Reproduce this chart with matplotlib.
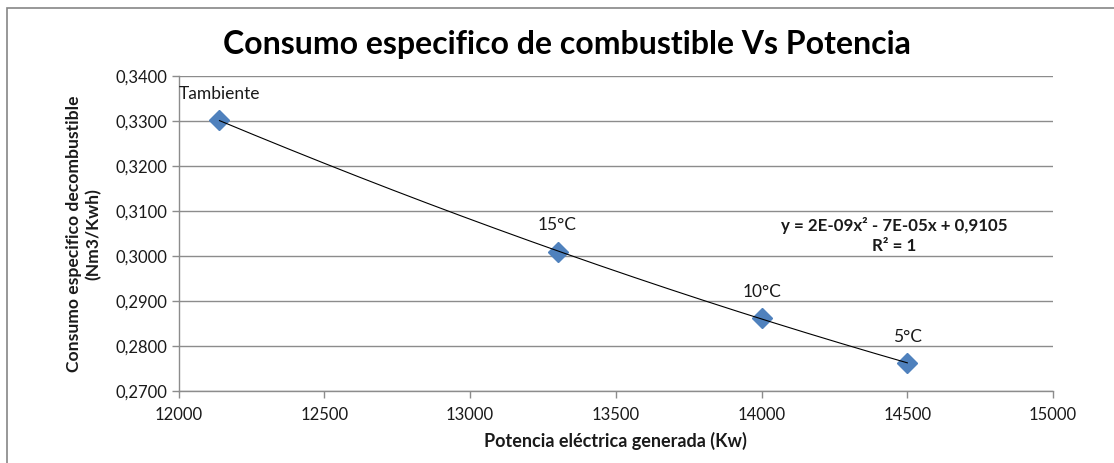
import matplotlib

matplotlib.use("Agg")
import matplotlib.pyplot as plt
import numpy as np
from matplotlib.patches import Rectangle
from matplotlib.ticker import FuncFormatter, MultipleLocator

# potencia generada (Kw) y consumo especifico (Nm3/Kwh) por condicion de temperatura
condiciones = ["Tambiente", "15°C", "10°C", "5°C"]
potencia = [12140, 13300, 14000, 14500]
consumo = [0.3302, 0.3010, 0.2862, 0.2761]

titulo = "Consumo especifico de combustible Vs Potencia"
etiqueta_x = "Potencia eléctrica generada (Kw)"
etiqueta_y = "Consumo especifico decombustible\n(Nm3/Kwh)"
ecuacion = "y = 2E-09x² - 7E-05x + 0,9105\nR² = 1"

plt.rcParams["font.family"] = ["Lato", "DejaVu Sans"]

grid_color = "#8c8c8c"
text_color = "#1a1a1a"
fig = plt.figure(figsize=(11.14, 4.63), dpi=100)
ax = fig.add_axes([0.1604, 0.1562, 0.7849, 0.6786])

# marco exterior del grafico
fig.patches.append(
    Rectangle((7 / 1114, -0.05), 1.2, 1 - 8 / 463 + 0.05, transform=fig.transFigure,
              fill=False, edgecolor="#868686", linewidth=1.2)
)

# linea de tendencia polinomica de orden 2
coef = np.polyfit(potencia, consumo, 2)
xs = np.linspace(min(potencia), max(potencia), 200)
ax.plot(xs, np.polyval(coef, xs), color="black", linewidth=0.8, zorder=3)

ax.plot(potencia, consumo, linestyle="none", marker="D", markersize=10,
        color="#4f81bd", markeredgecolor="#4f81bd", zorder=2)

for nombre, x, y in zip(condiciones, potencia, consumo):
    ax.annotate(nombre, (x, y), xytext=(0, 13), textcoords="offset points",
                ha="center", va="bottom", fontsize=12.5, color=text_color)

ax.text(14455, 0.3045, ecuacion, ha="center", va="center", fontsize=12.2,
        fontweight="bold", linespacing=1.3, color=text_color)

ax.set_xlim(12000, 15000)
ax.set_ylim(0.27, 0.34)
ax.xaxis.set_major_locator(MultipleLocator(500))
ax.yaxis.set_major_locator(MultipleLocator(0.01))
ax.yaxis.set_major_formatter(FuncFormatter(lambda v, _: f"{v:.4f}".replace(".", ",")))
ax.xaxis.set_major_formatter(FuncFormatter(lambda v, _: f"{v:.0f}"))

ax.grid(axis="y", color=grid_color, linewidth=1)
ax.set_axisbelow(True)
for side in ["top", "right"]:
    ax.spines[side].set_visible(False)
for side in ["left", "bottom"]:
    ax.spines[side].set_color(grid_color)
    ax.spines[side].set_linewidth(1)
ax.tick_params(axis="both", direction="out", length=5, width=1, color=grid_color,
               labelsize=12, labelcolor=text_color)
ax.tick_params(axis="x", pad=7)
ax.tick_params(axis="y", pad=3)

ax.set_xlabel(etiqueta_x, fontsize=13, fontweight="bold", labelpad=6, color=text_color)
ax.set_ylabel(etiqueta_y, fontsize=12.6, fontweight="bold", labelpad=10,
              linespacing=1.3, color=text_color)
fig.suptitle(titulo, x=0.509, y=0.903, va="center", fontsize=23, fontweight="bold")

fig.savefig("out.png", dpi=100)
